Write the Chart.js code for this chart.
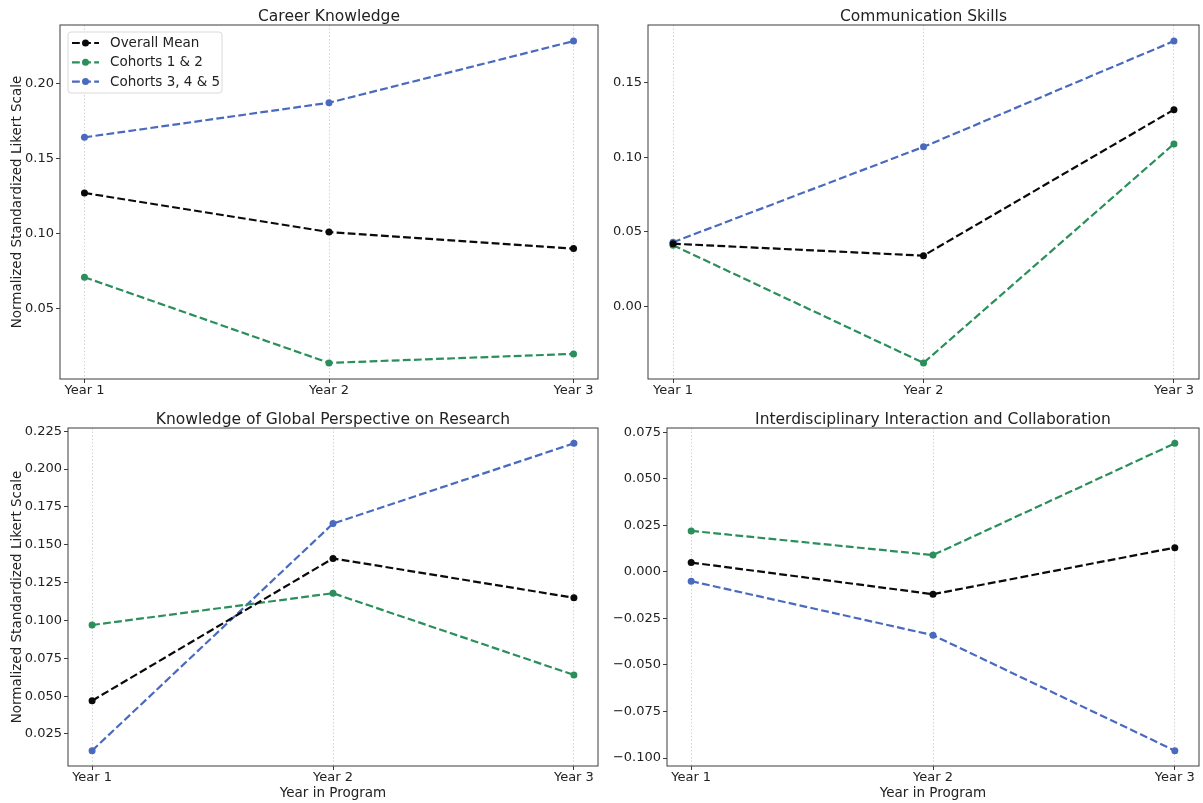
<!DOCTYPE html>
<html>
<head>
<meta charset="utf-8">
<title>Likert scale by cohort</title>
<script src="https://cdn.jsdelivr.net/npm/chart.js@4.4.1/dist/chart.umd.min.js"></script>
<style>
  html, body { margin: 0; padding: 0; background: #ffffff; }
  #page { position: relative; width: 1203px; height: 803px; overflow: hidden; }
  canvas { position: absolute; }
</style>
</head>
<body>
<div id="page">
  <canvas id="career" width="602" height="400" style="left:0;top:0"></canvas>
  <canvas id="communication" width="601" height="400" style="left:602px;top:0"></canvas>
  <canvas id="global" width="602" height="403" style="left:0;top:400px"></canvas>
  <canvas id="interdisciplinary" width="601" height="403" style="left:602px;top:400px"></canvas>
</div>
<script>
const YEARS = ["Year 1", "Year 2", "Year 3"];
const SERIES_LABELS = ["Overall Mean", "Cohorts 1 & 2", "Cohorts 3, 4 & 5"];

// Career Knowledge
const careerOverall = [0.127, 0.101, 0.090];
const careerCohorts12 = [0.071, 0.014, 0.020];
const careerCohorts345 = [0.164, 0.187, 0.228];
const careerTicks = [0.05, 0.10, 0.15, 0.20];

// Communication Skills
const commOverall = [0.042, 0.034, 0.132];
const commCohorts12 = [0.041, -0.038, 0.109];
const commCohorts345 = [0.043, 0.107, 0.178];
const commTicks = [0.00, 0.05, 0.10, 0.15];

// Knowledge of Global Perspective on Research
const globalOverall = [0.047, 0.141, 0.115];
const globalCohorts12 = [0.097, 0.118, 0.064];
const globalCohorts345 = [0.014, 0.164, 0.217];
const globalTicks = [0.025, 0.050, 0.075, 0.100, 0.125, 0.150, 0.175, 0.200, 0.225];

// Interdisciplinary Interaction and Collaboration
const interOverall = [0.005, -0.012, 0.013];
const interCohorts12 = [0.022, 0.009, 0.069];
const interCohorts345 = [-0.005, -0.034, -0.096];
const interTicks = [-0.100, -0.075, -0.050, -0.025, 0.000, 0.025, 0.050, 0.075];

const FONT = "'DejaVu Sans', 'Liberation Sans', sans-serif";
const TEXT = "#222222";
const COLORS = ["#0a0a0a", "#2a8f5a", "#4a6abf"];
const DASH = [7.8, 3.3];
const Y_TITLE = "Normalized Standardized Likert Scale";
const X_TITLE = "Year in Program";

function fmtTick(v, digits) {
  return v.toFixed(digits).replace("-", "\u2212");
}

// axes box on all four sides
const framePlugin = {
  id: "frame",
  afterDatasetsDraw(chart) {
    const { ctx, chartArea: a } = chart;
    ctx.save();
    ctx.strokeStyle = "#3c3c3c";
    ctx.lineWidth = 1;
    ctx.strokeRect(a.left, a.top, a.right - a.left, a.bottom - a.top);
    ctx.restore();
  },
};

const panelTitlePlugin = {
  id: "panelTitle",
  afterDraw(chart, args, opts) {
    const { ctx, chartArea: a } = chart;
    ctx.save();
    ctx.font = `15.5px ${FONT}`;
    ctx.fillStyle = TEXT;
    ctx.textAlign = "center";
    ctx.textBaseline = "alphabetic";
    ctx.fillText(opts.text, (a.left + a.right) / 2, a.top - 4);
    ctx.restore();
  },
};

// matplotlib-style legend box in the upper left corner
const cornerLegendPlugin = {
  id: "cornerLegend",
  afterDraw(chart, args, opts) {
    if (!opts.show) return;
    const { ctx, chartArea: a } = chart;
    const x0 = a.left + 8, y0 = a.top + 7, w = 154, h = 61;
    ctx.save();
    ctx.fillStyle = "rgba(255,255,255,0.9)";
    ctx.strokeStyle = "#d9d9d9";
    ctx.lineWidth = 1;
    ctx.beginPath();
    ctx.roundRect(x0, y0, w, h, 3);
    ctx.fill();
    ctx.stroke();
    chart.data.datasets.forEach((ds, i) => {
      const y = y0 + 11 + i * 19.3;
      ctx.strokeStyle = ds.borderColor;
      ctx.lineWidth = 2.2;
      ctx.setLineDash(DASH);
      ctx.beginPath();
      ctx.moveTo(x0 + 4, y);
      ctx.lineTo(x0 + 31, y);
      ctx.stroke();
      ctx.setLineDash([]);
      ctx.fillStyle = ds.borderColor;
      ctx.beginPath();
      ctx.arc(x0 + 17.5, y, 3.5, 0, Math.PI * 2);
      ctx.fill();
      ctx.fillStyle = TEXT;
      ctx.font = `13.5px ${FONT}`;
      ctx.textAlign = "left";
      ctx.textBaseline = "middle";
      ctx.fillText(ds.label, x0 + 42, y + 0.5);
    });
    ctx.restore();
  },
};

function makePanel(id, cfg) {
  const datasets = cfg.series.map((values, i) => ({
    label: SERIES_LABELS[i],
    data: values.map((v, j) => ({ x: j, y: v })),
    borderColor: COLORS[i],
    backgroundColor: COLORS[i],
    pointBackgroundColor: COLORS[i],
    borderWidth: 2.2,
    borderDash: DASH,
    pointRadius: 3.5,
    pointBorderWidth: 0,
    tension: 0,
    fill: false,
  }));
  const all = cfg.series.flat();
  const lo = Math.min(...all);
  const hi = Math.max(...all);
  const margin = (hi - lo) * 0.05;

  return new Chart(document.getElementById(id), {
    type: "line",
    data: { datasets },
    options: {
      responsive: false,
      animation: false,
      events: [],
      layout: { padding: cfg.padding },
      plugins: {
        legend: { display: false },
        tooltip: { enabled: false },
        panelTitle: { text: cfg.title },
        cornerLegend: { show: !!cfg.legend },
      },
      scales: {
        x: {
          type: "linear",
          min: -0.1,
          max: 2.1,
          afterBuildTicks: (axis) => {
            axis.ticks = YEARS.map((_, i) => ({ value: i }));
          },
          afterFit: (axis) => {
            axis.height = cfg.xHeight;
          },
          ticks: {
            callback: (v) => YEARS[v],
            color: TEXT,
            font: { family: FONT, size: 13 },
            padding: 0,
            maxRotation: 0,
            autoSkip: false,
          },
          grid: {
            color: "rgba(0,0,0,0.22)",
            lineWidth: 0.8,
            tickColor: "#3c3c3c",
            tickLength: 4,
            tickWidth: 1,
          },
          border: { display: false, dash: [1.5, 2] },
          title: {
            display: !!cfg.xTitle,
            text: X_TITLE,
            color: TEXT,
            font: { family: FONT, size: 13.5 },
            padding: { top: 0, bottom: 1 },
          },
        },
        y: {
          min: lo - margin,
          max: hi + margin,
          afterBuildTicks: (axis) => {
            axis.ticks = cfg.yTicks.map((v) => ({ value: v }));
          },
          afterFit: (axis) => {
            axis.width = cfg.yWidth;
          },
          ticks: {
            callback: (v) => fmtTick(v, cfg.digits),
            color: TEXT,
            font: { family: FONT, size: 13 },
            padding: 2,
          },
          grid: {
            drawOnChartArea: false,
            tickColor: "#3c3c3c",
            tickLength: 4,
            tickWidth: 1,
          },
          border: { display: false },
          title: {
            display: !!cfg.yTitle,
            text: Y_TITLE,
            color: TEXT,
            font: { family: FONT, size: 13.5 },
            padding: { top: 9.8, bottom: 0 },
          },
        },
      },
    },
    plugins: [framePlugin, panelTitlePlugin, cornerLegendPlugin],
  });
}

makePanel("career", {
  title: "Career Knowledge",
  series: [careerOverall, careerCohorts12, careerCohorts345],
  yTicks: careerTicks,
  digits: 2,
  padding: { left: 0, top: 25, right: 3, bottom: 0 },
  yWidth: 60,
  xHeight: 21,
  yTitle: true,
  legend: true,
});

makePanel("communication", {
  title: "Communication Skills",
  series: [commOverall, commCohorts12, commCohorts345],
  yTicks: commTicks,
  digits: 2,
  padding: { left: 0, top: 25, right: 2, bottom: 0 },
  yWidth: 46,
  xHeight: 21,
});

makePanel("global", {
  title: "Knowledge of Global Perspective on Research",
  series: [globalOverall, globalCohorts12, globalCohorts345],
  yTicks: globalTicks,
  digits: 3,
  padding: { left: 0, top: 28, right: 3, bottom: 0 },
  yWidth: 68,
  xHeight: 37,
  yTitle: true,
  xTitle: true,
});

makePanel("interdisciplinary", {
  title: "Interdisciplinary Interaction and Collaboration",
  series: [interOverall, interCohorts12, interCohorts345],
  yTicks: interTicks,
  digits: 3,
  padding: { left: 0, top: 28, right: 2, bottom: 0 },
  yWidth: 65,
  xHeight: 37,
  xTitle: true,
});
</script>
</body>
</html>
